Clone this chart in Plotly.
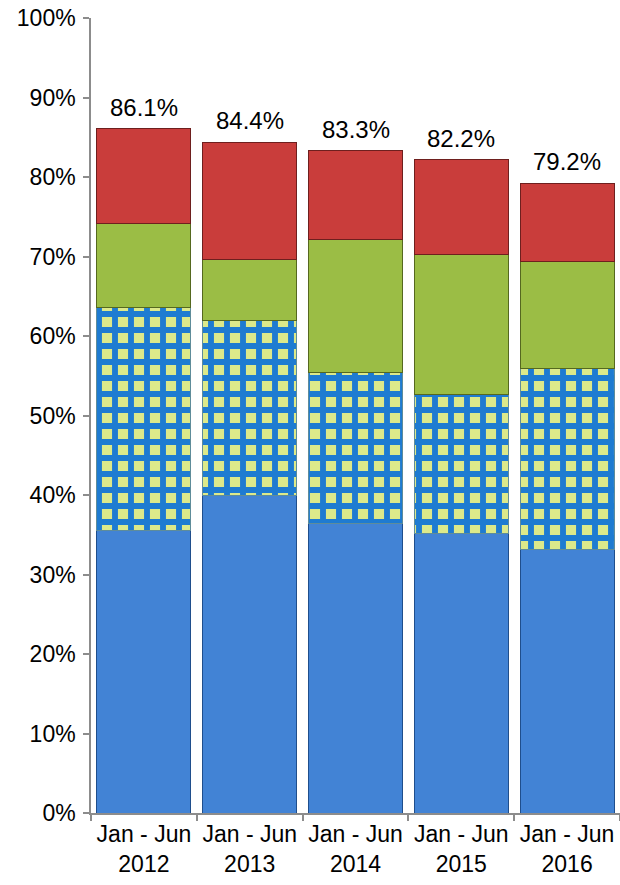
import plotly.graph_objects as go

# Half-year periods shown on the category axis
periods = ["Jan - Jun<br>2012", "Jan - Jun<br>2013", "Jan - Jun<br>2014",
           "Jan - Jun<br>2015", "Jan - Jun<br>2016"]

# Stacked shares (%) from bottom to top
share_blue = [35.5, 39.9, 36.4, 35.1, 33.2]
share_checked = [28.1, 22.0, 19.0, 17.6, 22.7]
share_green = [10.6, 7.7, 16.8, 17.6, 13.5]
share_red = [11.9, 14.8, 11.1, 11.9, 9.8]

totals = [a + b + c + d for a, b, c, d in zip(share_blue, share_checked, share_green, share_red)]
total_labels = [f"{t:.1f}%" for t in totals]

FONT = "Liberation Sans, Arial, Helvetica, sans-serif"

fig = go.Figure()

fig.add_trace(go.Bar(
    x=periods, y=share_blue, name="Blue",
    marker=dict(color="#4283D5", line=dict(color="#1F4E8C", width=1)),
))
fig.add_trace(go.Bar(
    x=periods, y=share_checked, name="Checked",
    marker=dict(
        color="#DCE98A",
        line=dict(color="#5E8C9A", width=1),
        pattern=dict(shape="+", fgcolor="#1E7BD1", bgcolor="#DCE98A",
                     size=16, solidity=0.6, fillmode="replace"),
    ),
))
fig.add_trace(go.Bar(
    x=periods, y=share_green, name="Green",
    marker=dict(color="#9BBD45", line=dict(color="#55681F", width=1)),
))
fig.add_trace(go.Bar(
    x=periods, y=share_red, name="Red",
    marker=dict(color="#C93D3B", line=dict(color="#6E1F1E", width=1)),
))

# Total labels above each stack
for p, t, lab in zip(periods, totals, total_labels):
    fig.add_annotation(
        x=p, y=t, text=lab, showarrow=False,
        xanchor="center", yanchor="bottom", yshift=6,
        font=dict(family=FONT, size=24, color="#000000"),
    )

fig.update_layout(
    width=620, height=885,
    margin=dict(l=91, r=0, t=18, b=72, pad=0),
    barmode="stack", bargap=0.11,
    showlegend=False,
    plot_bgcolor="#FFFFFF", paper_bgcolor="#FFFFFF",
    font=dict(family=FONT, size=23, color="#000000"),
)
fig.update_yaxes(
    range=[0, 100], dtick=10, ticksuffix="%",
    showgrid=False, zeroline=False,
    showline=True, linecolor="#8C8C8C", linewidth=1.5,
    ticks="outside", ticklen=6, tickcolor="#8C8C8C", tickwidth=1.5,
    ticklabelstandoff=3,
    tickfont=dict(family=FONT, size=23, color="#000000"),
)
fig.update_xaxes(
    showgrid=False, showline=True, linecolor="#8C8C8C", linewidth=1.5,
    ticks="outside", ticklen=6, tickcolor="#8C8C8C", tickwidth=1.5,
    tickson="boundaries",
    tickfont=dict(family=FONT, size=23, color="#000000"),
)

fig.write_html("out.html")
